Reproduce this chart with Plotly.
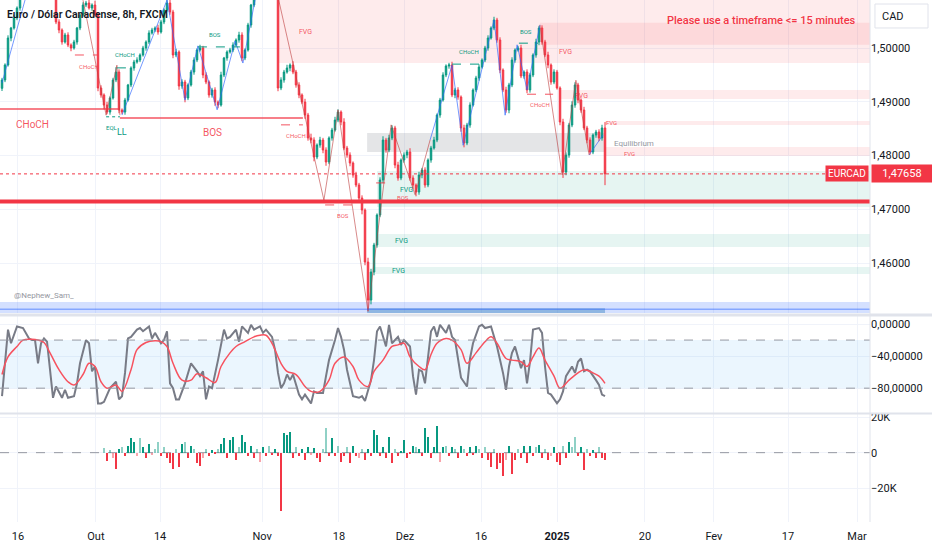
import plotly.graph_objects as go

# ---- price data (8h bars, index = bar number) ----
first_open = 1.49250
closes = [
    1.49405, 1.49684, 1.50186, 1.50372, 1.50558, 1.50744, 1.50986, 1.51172, 1.51358, 1.51451,
    1.51414, 1.51544, 1.51637, 1.51488, 1.51358, 1.51265, 1.51116, 1.50930, 1.50484, 1.50335,
    1.50112, 1.50242, 1.50056, 1.50000, 1.50112, 1.50372, 1.50614, 1.50800, 1.50837, 1.50744,
    1.50800, 1.50614, 1.49256, 1.49126, 1.48939, 1.48809, 1.49070, 1.49405, 1.49553, 1.48846,
    1.48809, 1.49032, 1.49312, 1.49628, 1.49739, 1.49777, 1.49870, 1.50000, 1.50112, 1.50279,
    1.50335, 1.50372, 1.50298, 1.50484, 1.50707, 1.50837, 1.50670, 1.49870, 1.49926, 1.49293,
    1.49367, 1.49070, 1.49312, 1.49553, 1.49777, 1.49963, 1.50000, 1.49498, 1.49367, 1.49126,
    1.49219, 1.48995, 1.48939, 1.49498, 1.49814, 1.49926, 1.49963, 1.50056, 1.50149, 1.50242,
    1.49814, 1.49963, 1.50428, 1.50800, 1.51079, 1.51265, 1.51414, 1.51544, 1.51451, 1.51302,
    1.51172, 1.51042, 1.49256, 1.49405, 1.49553, 1.49628, 1.49684, 1.49553, 1.49312, 1.49126,
    1.48995, 1.48753, 1.48326, 1.48288, 1.47972, 1.48195, 1.48288, 1.48102, 1.47879, 1.48326,
    1.48474, 1.48660, 1.48809, 1.48623, 1.48139, 1.48009, 1.47860, 1.47637, 1.47451, 1.47209,
    1.46986, 1.46018, 1.45311, 1.45832, 1.46335, 1.46893, 1.47544, 1.48288, 1.48102, 1.48326,
    1.48512, 1.47823, 1.47581, 1.47916, 1.48009, 1.48065, 1.47581, 1.47451, 1.47321, 1.47637,
    1.47730, 1.47451, 1.47916, 1.48139, 1.48288, 1.48753, 1.49032, 1.49498, 1.49665, 1.49684,
    1.49126, 1.49219, 1.49088, 1.48512, 1.48232, 1.48567, 1.48939, 1.49219, 1.49442, 1.49646,
    1.49777, 1.50000, 1.50186, 1.50372, 1.50521, 1.50149, 1.49591, 1.49219, 1.48846, 1.49312,
    1.49777, 1.49963, 1.50000, 1.49479, 1.49553, 1.49219, 1.49498, 1.49870, 1.50112, 1.50372,
    1.50112, 1.49870, 1.49684, 1.49367, 1.49553, 1.49256, 1.48623, 1.47693, 1.48009, 1.48567,
    1.48939, 1.49312, 1.49032, 1.48846, 1.48512, 1.48288, 1.48065, 1.48381, 1.48437, 1.48326,
    1.48512, 1.47658,
]
# wick lengths in pips above / below the body
wick_up = [
    4, 3, 5, 2, 6, 3, 4, 3, 5, 4, 3, 5, 4, 3, 4, 5, 3, 6, 4, 5,
    3, 4, 5, 3, 4, 2, 3, 5, 4, 6, 3, 8, 4, 5, 3, 6, 3, 4, 9, 5,
    3, 4, 2, 3, 4, 5, 3, 4, 3, 5, 4, 3, 6, 4, 3, 5, 9, 4, 6, 3,
    5, 4, 3, 4, 5, 3, 6, 4, 5, 3, 4, 5, 3, 6, 2, 3, 4, 5, 3, 6,
    5, 3, 4, 2, 3, 4, 5, 3, 4, 5, 3, 4, 12, 5, 4, 6, 3, 7, 4, 5,
    3, 6, 4, 8, 5, 3, 6, 4, 5, 3, 4, 6, 5, 3, 7, 4, 5, 3, 6, 4,
    5, 3, 8, 6, 4, 3, 5, 7, 4, 6, 5, 4, 6, 3, 5, 4, 7, 5, 3, 6,
    4, 5, 3, 4, 6, 3, 4, 5, 3, 4, 6, 4, 5, 3, 6, 4, 5, 3, 4, 5,
    3, 4, 5, 3, 6, 4, 5, 3, 6, 4, 5, 3, 4, 6, 3, 5, 4, 3, 6, 4,
    5, 4, 6, 3, 5, 4, 3, 6, 5, 4, 7, 5, 4, 3, 6, 4, 5, 3, 4, 5,
    6, 11,
]
wick_dn = [
    5, 4, 3, 6, 3, 4, 5, 3, 4, 3, 4, 3, 5, 4, 3, 4, 5, 3, 4, 6,
    5, 3, 4, 6, 3, 5, 4, 3, 4, 3, 5, 4, 6, 5, 8, 4, 5, 3, 4, 6,
    4, 5, 3, 4, 5, 3, 4, 3, 5, 4, 3, 4, 5, 3, 4, 3, 5, 6, 4, 7,
    5, 8, 4, 3, 5, 4, 3, 6, 4, 5, 5, 7, 6, 3, 4, 5, 3, 4, 3, 5,
    6, 4, 3, 5, 4, 3, 4, 5, 3, 4, 5, 3, 6, 4, 5, 3, 6, 4, 5, 6,
    4, 7, 5, 6, 8, 4, 5, 6, 7, 4, 5, 3, 4, 6, 4, 5, 6, 5, 4, 6,
    8, 6, 19, 8, 6, 5, 4, 6, 5, 4, 4, 6, 5, 4, 5, 6, 5, 7, 8, 5,
    6, 5, 4, 5, 3, 4, 5, 3, 4, 5, 4, 6, 5, 7, 8, 4, 5, 3, 4, 5,
    3, 4, 5, 3, 4, 5, 6, 4, 5, 6, 4, 5, 3, 4, 5, 6, 5, 4, 5, 6,
    5, 4, 6, 5, 4, 3, 6, 11, 6, 5, 4, 5, 6, 5, 4, 6, 5, 4, 5, 6,
    5, 21,
]

# ---- oscillator (%R style) : (bar, value) ----
osc_points = [
    (0, -90), (1, -53), (2, -7), (3, -24), (5, -3), (7, -5), (8, -11), (9, -18), (10, -20), (11, -20),
    (12, -49), (13, -24), (14, -18), (15, -22), (16, -57), (17, -92), (18, -78), (20, -92), (21, -82),
    (22, -92), (24, -90), (25, -74), (26, -49), (28, -20), (29, -24), (30, -59), (31, -53), (32, -99),
    (33, -99), (34, -97), (36, -80), (38, -72), (39, -94), (40, -90), (41, -61), (42, -18), (43, -16),
    (45, -7), (46, -5), (47, -9), (49, -3), (50, -18), (51, -11), (53, -24), (54, -20), (55, -9),
    (56, -74), (57, -80), (58, -94), (59, -94), (61, -74), (62, -61), (63, -49), (65, -59), (66, -65),
    (67, -59), (68, -94), (69, -78), (70, -80), (72, -45), (73, -24), (74, -7), (75, -18), (76, -16),
    (78, -7), (79, -22), (80, -3), (82, -11), (83, -1), (84, -7), (86, -3), (87, -11), (88, -7),
    (90, -16), (91, -32), (92, -61), (93, -80), (94, -74), (95, -63), (96, -70), (97, -63), (99, -88),
    (100, -94), (101, -88), (103, -99), (104, -84), (105, -86), (107, -86), (108, -65), (109, -45),
    (111, -20), (112, -5), (113, -16), (114, -32), (115, -57), (116, -72), (117, -90), (119, -92),
    (120, -90), (121, -96), (123, -70), (124, -45), (125, -9), (126, -3), (128, -28), (129, -1),
    (130, -24), (132, -16), (133, -26), (134, -20), (136, -28), (137, -65), (138, -88), (139, -57),
    (140, -59), (141, -74), (142, -41), (143, -9), (144, -3), (145, -16), (146, -1), (148, -11),
    (149, -1), (150, -16), (151, -20), (152, -43), (153, -67), (155, -78), (156, -43), (157, -24),
    (159, -3), (160, -1), (161, -5), (163, -3), (164, -16), (165, -28), (167, -61), (168, -82),
    (169, -53), (170, -36), (171, -28), (173, -55), (174, -45), (175, -74), (176, -47), (177, -7),
    (179, -5), (180, -11), (181, -53), (182, -86), (183, -88), (184, -94), (185, -99), (186, -94),
    (187, -84), (188, -65), (190, -53), (191, -61), (192, -47), (193, -43), (194, -59), (195, -57),
    (196, -59), (198, -70), (199, -76), (200, -88), (201, -90),
]
osc_ma_points = [
    (0, -63), (2, -41), (5, -28), (7, -20), (10, -19), (12, -20), (14, -23), (16, -36), (19, -57),
    (22, -72), (24, -76), (27, -63), (29, -49), (31, -53), (33, -72), (35, -80), (38, -76), (40, -84),
    (43, -57), (45, -32), (48, -23), (51, -21), (53, -22), (55, -28), (57, -49), (60, -70), (63, -70),
    (65, -62), (68, -67), (71, -73), (73, -53), (76, -36), (78, -28), (81, -22), (84, -16), (86, -14),
    (88, -14), (90, -24), (93, -49), (95, -59), (98, -63), (101, -78), (103, -84), (106, -84),
    (109, -70), (111, -49), (114, -41), (117, -53), (119, -70), (122, -78), (124, -59), (127, -45),
    (130, -28), (132, -26), (134, -24), (136, -41), (139, -53), (141, -57), (143, -38), (145, -24),
    (148, -18), (150, -20), (153, -32), (155, -49), (158, -36), (161, -22), (163, -16), (165, -24),
    (168, -43), (170, -45), (173, -47), (175, -53), (177, -41), (179, -30), (181, -45), (184, -65),
    (186, -80), (189, -70), (192, -61), (194, -57), (197, -61), (199, -65), (201, -74),
]

# ---- volume delta (thousands), first bar = vol_start ----
vol_start = 34
vol_k = [
    2.5, -4.5, 1.5, -3, -9, 2, 3, -2, 4, 8.5,
    6, -2, 8, 3, -3, 5, -1.5, 2, 6, -2,
    3, -3, -6, -9, 2, -8, 5, 6, -3, 4,
    2, -6, -7.5, -3, 2, -2, 1.5, -1, 2, 5,
    8, -3, 7, 9, -4, 3, 10, 6, -2, 4,
    -3, 2, -5, 3, -2, 3.5, -1.5, 2, -2, -33,
    11, 10, 11.5, -3, 3, -2, 2, -4, 3, -1.5,
    2.5, -3, -5, 2, 14, -2, 8, -2, 4, -5,
    -2, 3, -6, 4, -2, -3, 2, -4, 2, -2,
    13, 10, -2, 3, -3, 9, -6, 2, -2, 1,
    7, -3, -1, 4, 3, 2, -2, 14, 9, -3,
    3, 15, -5, 3, 4, -2, 3, 2, -3, 4,
    2, -2, 3, -1.5, 4, 2, -3, 3, -4, -8,
    2, -9, -6, -13, -4, 4, -12, -4, 2, -3,
    4, -6, 4, -2, 3, 4.5, -3, 2, -4, -2,
    3, -5, -7, 4, -3, 6, 3, 9, -2, 3,
    -9.5, 2, -2, 1.5, -3, 3, -3, -4,
]
vol_strong = (
    "0100110111" "1001110001" "0111011011" "0110011101" "1111101111" "1001101111"
    "1111011110" "1110011101" "1011100111" "1111111011" "1111011111" "1101011011"
    "0111101011" "0111011101" "1111011010" "1110110011" "10111011"
)

# ---- time axis ----
tick_pos = [5.3, 31.3, 52.7, 86.7, 112.3, 134.3, 159.7, 185, 214.3, 237.3, 262, 285]
tick_txt = ["16", "Out", "14", "Nov", "18", "Dez", "16", "<b>2025</b>", "20", "Fev", "17", "Mar"]
price_ticks = [1.46, 1.47, 1.48, 1.49, 1.50]
last_price = 1.47658

# ---- SMC zones: (bar from, bar to or None = extend right, low, high, kind) ----
zones = [
    (92.0, None, 1.4972, 1.5200, "bear"),
    (179.3, None, 1.5006, 1.5047, "bear"),
    (186.0, None, 1.4905, 1.4922, "bear"),
    (201.0, None, 1.48567, 1.48642, "bear"),
    (201.0, None, 1.47991, 1.48158, "bear"),
    (121.7, 201.0, 1.48065, 1.48419, "eq"),
    (125.0, None, 1.47042, 1.47712, "bull"),
    (125.0, None, 1.46298, 1.46540, "bull"),
    (124.3, None, 1.45796, 1.45926, "bull"),
    (None, None, 1.4490, 1.45275, "disc"),
    (121.7, 201.0, 1.4490, 1.4516, "disc2"),
]
strong_low = 1.47144
disc_line = 1.4514

# structure levels: (bar from, bar to, price, side, style)
levels = [
    (None, 38.7, 1.48865, "bear", "solid"),
    (39.3, 100.3, 1.48698, "bear", "solid"),
    (24.3, 31.7, 1.4987, "bear", "dash"),
    (38.3, 42.7, 1.4963, "bull", "dash"),
    (65.3, 79.3, 1.5002, "bull", "dash"),
    (34.7, 39.3, 1.4872, "bull", "dot"),
    (93.0, 100.3, 1.4857, "bear", "dash"),
    (107.7, 119.3, 1.4708, "bear", "dash"),
    (124.7, 130.3, 1.4749, "bear", "dash"),
    (150.0, 160.3, 1.4970, "bull", "dash"),
    (172.3, 178.7, 1.5009, "bull", "dash"),
    (175.0, 183.7, 1.4914, "bear", "dash"),
]

# swing legs (bar, price)
swings_up = [
    [(0, 1.4935), (10, 1.5136)],
    [(40, 1.48753), (55, 1.50893), (61, 1.4903), (65.3, 1.5004), (71.7, 1.4885),
     (77.7, 1.5013), (80.3, 1.4972), (85, 1.5108)],
    [(142.7, 1.4829), (150, 1.4968), (153.7, 1.4819), (164, 1.5052), (167.7, 1.4875),
     (171.7, 1.5006), (175, 1.4922), (179.3, 1.5043)],
    [(195.7, 1.4801), (200.3, 1.4838)],
]
swings_dn = [
    [(27, 1.5089), (34.7, 1.4875), (38.3, 1.4968), (39.3, 1.4875)],
    [(92, 1.5095), (107.3, 1.4717), (112, 1.4885), (122, 1.4510), (129.7, 1.4857),
     (137.7, 1.4727), (142.7, 1.4829)],
    [(179.3, 1.5043), (186.7, 1.4764), (191.3, 1.4940), (195.7, 1.4801)],
]

# labels: (text, bar, price, side, size)
labels = [
    ("CHoCH", 10.3, 1.48586, "bear", 10),
    ("BOS", 70.3, 1.48437, "bear", 10),
    ("CHoCH", 29, 1.49665, "bear", 6),
    ("BOS", 71, 1.50260, "bull", 6),
    ("CHoCH", 41, 1.49888, "bull", 6),
    ("EQL", 36.7, 1.48512, "bull", 6),
    ("LL", 40, 1.48437, "bull", 9),
    ("FVG", 101.3, 1.50298, "bear", 7),
    ("CHoCH", 98, 1.48363, "bear", 6),
    ("BOS", 113.7, 1.46875, "bear", 6),
    ("FVG", 134.7, 1.47360, "bull", 7),
    ("BOS", 133.7, 1.47226, "bear", 6),
    ("FVG", 133, 1.46409, "bull", 7),
    ("FVG", 132.3, 1.45851, "bull", 7),
    ("CHoCH", 155.7, 1.49926, "bull", 6),
    ("BOS", 174.7, 1.50298, "bull", 6),
    ("FVG", 187.7, 1.49926, "bear", 7),
    ("CHoCH", 179.3, 1.48940, "bear", 6),
    ("FVG", 193.3, 1.49107, "bear", 7),
    ("FVG", 203, 1.48605, "bear", 6),
    ("FVG", 209.3, 1.48046, "bear", 6),
    ("Equilibrium", 210.7, 1.48232, "eq", 8),
]

UP = "#089981"
DN = "#f23645"
GRID = "#f0f3fa"
X0, X1 = -0.67, 289.33
FONT = "Roboto"

zone_fill = {
    "bear": "rgba(242,54,69,0.10)",
    "bull": "rgba(8,153,129,0.10)",
    "eq": "rgba(120,123,134,0.20)",
    "disc": "rgba(41,98,255,0.20)",
    "disc2": "rgba(60,130,190,0.45)",
}
side_col = {"bear": "rgba(242,54,69,0.85)", "bull": UP, "eq": "#9598a1"}

# ---- candles ----
n = len(closes)
bars = list(range(n))
opens = [first_open] + closes[:-1]
highs = [max(o, c) + u * 1e-4 for o, c, u in zip(opens, closes, wick_up)]
lows = [min(o, c) - d * 1e-4 for o, c, d in zip(opens, closes, wick_dn)]

fig = go.Figure()
fig.add_trace(go.Candlestick(
    x=bars, open=opens, high=highs, low=lows, close=closes,
    increasing=dict(line=dict(color=UP, width=1), fillcolor=UP),
    decreasing=dict(line=dict(color=DN, width=1), fillcolor=DN),
    whiskerwidth=0, xaxis="x", yaxis="y", hoverinfo="skip",
))


def legs(groups):
    xs, ys = [], []
    for g in groups:
        xs += [p[0] for p in g] + [None]
        ys += [p[1] for p in g] + [None]
    return xs, ys


ux, uy = legs(swings_up)
fig.add_trace(go.Scatter(x=ux, y=uy, mode="lines", line=dict(color="rgba(41,98,255,0.65)", width=1),
                         xaxis="x", yaxis="y", hoverinfo="skip"))
dx, dy = legs(swings_dn)
fig.add_trace(go.Scatter(x=dx, y=dy, mode="lines", line=dict(color="rgba(190,60,60,0.6)", width=1),
                         xaxis="x", yaxis="y", hoverinfo="skip"))

# ---- oscillator ----
fig.add_trace(go.Scatter(x=[p[0] for p in osc_points], y=[p[1] for p in osc_points], mode="lines",
                         line=dict(color="#787b86", width=2), xaxis="x2", yaxis="y2", hoverinfo="skip"))
fig.add_trace(go.Scatter(x=[p[0] for p in osc_ma_points], y=[p[1] for p in osc_ma_points], mode="lines",
                         line=dict(color="#f7525f", width=1.5, shape="spline"), xaxis="x2", yaxis="y2",
                         hoverinfo="skip"))

# ---- volume delta ----
vbars = list(range(vol_start, vol_start + len(vol_k)))
vcols = []
for v, s in zip(vol_k, vol_strong):
    if v >= 0:
        vcols.append(UP if s == "1" else "rgba(8,153,129,0.45)")
    else:
        vcols.append(DN if s == "1" else "rgba(242,54,69,0.45)")
fig.add_trace(go.Bar(x=vbars, y=[v * 1000 for v in vol_k], marker=dict(color=vcols, line=dict(width=0)),
                     width=0.5, xaxis="x3", yaxis="y3", hoverinfo="skip"))

# ---- shapes ----
shapes = []
for x0, x1, lo, hi, kind in zones:
    shapes.append(dict(type="rect", xref="x", yref="y", x0=X0 if x0 is None else x0,
                       x1=X1 if x1 is None else x1, y0=lo, y1=hi, fillcolor=zone_fill[kind],
                       line=dict(width=0), layer="between"))
shapes.append(dict(type="line", xref="x", yref="y", x0=X0, x1=X1, y0=disc_line, y1=disc_line,
                   line=dict(color="rgba(41,98,255,0.45)", width=1.5)))
for x0, x1, lvl, side, style in levels:
    shapes.append(dict(type="line", xref="x", yref="y", x0=X0 if x0 is None else x0, x1=x1,
                       y0=lvl, y1=lvl, line=dict(color=side_col[side], width=1.3 if style == "solid" else 1,
                                                 dash=style)))
shapes.append(dict(type="line", xref="x", yref="y", x0=X0, x1=X1, y0=strong_low, y1=strong_low,
                   line=dict(color=DN, width=4)))
shapes.append(dict(type="line", xref="x", yref="y", x0=X0, x1=X1, y0=last_price, y1=last_price,
                   line=dict(color=DN, width=1, dash="dot")))
# oscillator band
shapes.append(dict(type="rect", xref="x2", yref="y2", x0=X0, x1=X1, y0=-80, y1=-20,
                   fillcolor="rgba(33,150,243,0.09)", line=dict(width=0), layer="between"))
for lvl in (-20, -80):
    shapes.append(dict(type="line", xref="x2", yref="y2", x0=X0, x1=X1, y0=lvl, y1=lvl,
                       line=dict(color="#9598a1", width=1, dash="dash")))
shapes.append(dict(type="line", xref="x3", yref="y3", x0=X0, x1=X1, y0=0, y1=0,
                   line=dict(color="#9598a1", width=1, dash="dash"), layer="between"))
# pane separators / frame
shapes.append(dict(type="line", xref="paper", yref="paper", x0=0, x1=1.072, y0=0.3966, y1=0.3966,
                   line=dict(color="#e0e3eb", width=3)))
shapes.append(dict(type="line", xref="paper", yref="paper", x0=0, x1=1.072, y0=0.2078, y1=0.2078,
                   line=dict(color="#e0e3eb", width=2)))
shapes.append(dict(type="line", xref="paper", yref="paper", x0=1, x1=1, y0=0, y1=1,
                   line=dict(color="#e0e3eb", width=1)))
shapes.append(dict(type="rect", xref="paper", yref="paper", x0=1.0057, x1=1.0667, y0=0.9464, y1=0.9923,
                   line=dict(color="#e0e3eb", width=1), fillcolor="white"))

# ---- annotations ----
ann = []
for txt, bx, py, side, size in labels:
    ann.append(dict(x=bx, y=py, xref="x", yref="y", text=txt, showarrow=False,
                    font=dict(family=FONT, size=size, color=side_col[side])))
ann.append(dict(x=3.3, y=1.4539, xref="x", yref="y", text="@Nephew_Sam_", showarrow=False, xanchor="left",
                font=dict(family=FONT, size=8, color="#9598a1")))
ann.append(dict(x=0.006, y=0.9713, xref="paper", yref="paper", text="Euro / Dólar Canadense, 8h, FXCM",
                showarrow=False, xanchor="left", yanchor="middle",
                font=dict(family=FONT, size=10.5, color="#131722", weight=600)))
ann.append(dict(x=0.9862, y=0.9598, xref="paper", yref="paper",
                text="Please use a timeframe &lt;= 15 minutes", showarrow=False, xanchor="right",
                yanchor="middle", font=dict(family=FONT, size=11, color=DN, weight=500)))
ann.append(dict(x=1.0115, y=0.9693, xref="paper", yref="paper", text="CAD", showarrow=False,
                xanchor="left", yanchor="middle", font=dict(family=FONT, size=11, color="#131722")))
ann.append(dict(x=1, y=last_price, xref="paper", yref="y", text="EURCAD", showarrow=False,
                xanchor="right", yanchor="middle", bgcolor=DN, borderpad=2, xshift=-1,
                font=dict(family=FONT, size=10, color="white")))
ann.append(dict(x=1, y=last_price, xref="paper", yref="y", text=f"{last_price:.5f}".replace(".", ","),
                showarrow=False, xanchor="left", yanchor="middle", bgcolor=DN, borderpad=2, xshift=1,
                width=56, font=dict(family=FONT, size=11, color="white")))

xcommon = dict(range=[X0, X1], showgrid=True, gridcolor=GRID, tickvals=tick_pos, zeroline=False,
               showline=False, ticks="", fixedrange=True)
fig.update_layout(
    width=932, height=550,
    margin=dict(l=0, r=62, t=0, b=28, autoexpand=False),
    paper_bgcolor="white", plot_bgcolor="white",
    showlegend=False, separators=",.", bargap=0,
    font=dict(family=FONT, size=11, color="#131722"),
    xaxis=dict(domain=[0, 1], anchor="y", showticklabels=False, rangeslider=dict(visible=False), **xcommon),
    xaxis2=dict(domain=[0, 1], anchor="y2", matches="x", showticklabels=False, **xcommon),
    xaxis3=dict(domain=[0, 1], anchor="y3", matches="x", ticktext=tick_txt, showticklabels=True,
                ticklabelstandoff=6, tickfont=dict(size=11, color="#131722"), **xcommon),
    yaxis=dict(domain=[0.4004, 1], side="right", range=[1.4507, 1.50893], tickvals=price_ticks,
               tickformat=".5f", showgrid=True, gridcolor=GRID, zeroline=False, ticks="", fixedrange=True),
    yaxis2=dict(domain=[0.2088, 0.3946], side="right", range=[-111, 10], tickvals=[0, -40, -80],
                tickformat=".5f", showgrid=True, gridcolor=GRID, zeroline=False, ticks="", fixedrange=True),
    yaxis3=dict(domain=[0, 0.2069], side="right", range=[-38900, 21700], tickvals=[-20000, 0, 20000],
                ticktext=["−20K", "0", "20K"], showgrid=True, gridcolor=GRID, zeroline=False, ticks="",
                fixedrange=True),
    shapes=shapes,
    annotations=ann,
)

# page margin off so the 932x550 figure fills the window exactly
fig.write_html("out.html", config={"displayModeBar": False},
               post_script="document.body.style.margin='0';")
